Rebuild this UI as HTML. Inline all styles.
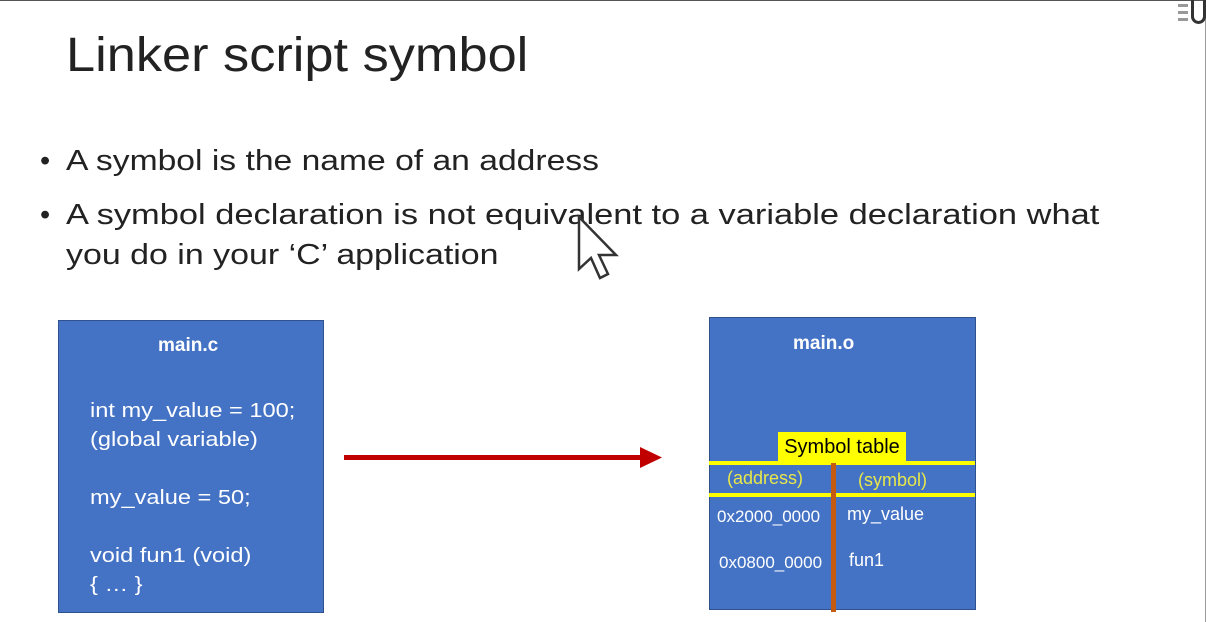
<!DOCTYPE html>
<html><head><style>
body{margin:0;width:1206px;height:622px;background:#fff;position:relative;overflow:hidden;font-family:"Liberation Sans",sans-serif;}
.a{position:absolute;white-space:nowrap;transform-origin:0 0;}
.box{position:absolute;background:#4472c4;border:1px solid #2f528f;}
.w{color:#fff;font-size:19px;}
</style></head><body>
<div style="position:absolute;left:0;top:0;width:1206px;height:1px;background:#555"></div>
<div style="position:absolute;left:1205px;top:0;width:1px;height:622px;background:#999"></div>
<div class="a" style="left:1178px;top:4px;width:10px;height:3px;background:#999;box-shadow:0 7px #999,0 14px #999"></div>
<div class="a" style="left:1191px;top:0;width:15px;height:24px;border:3px solid #333;border-top:none;border-radius:0 0 8px 8px;box-sizing:border-box"></div>
<div class="a" style="left:66px;top:28px;font-size:48px;color:#222;transform:scaleX(1.09)">Linker script symbol</div>
<div class="a" style="left:40px;top:145px;font-size:29px;color:#222;">•</div>
<div class="a" style="left:66px;top:145px;font-size:29px;color:#222;transform:scaleX(1.16)">A symbol is the name of an address</div>
<div class="a" style="left:40px;top:199px;font-size:29px;color:#222;">•</div>
<div class="a" style="left:66px;top:199px;font-size:29px;color:#222;transform:scaleX(1.187)">A symbol declaration is not equivalent to a variable declaration what</div>
<div class="a" style="left:66px;top:239px;font-size:29px;color:#222;transform:scaleX(1.17)">you do in your ‘C’ application</div>
<svg class="a" style="left:576px;top:214px" width="46" height="70"><path d="M3 3 L3 55 L15 44 L24 64 L32 60 L23 41 L40 41 Z" fill="#fff" stroke="#333" stroke-width="2.5"/></svg>
<div class="box" style="left:58px;top:320px;width:264px;height:291px;"></div>
<div class="a w" style="left:158px;top:335px;font-weight:bold;">main.c</div>
<div class="a w" style="left:90px;top:397px;line-height:29px;font-size:20px;transform:scaleX(1.18)">int my_value = 100;<br>(global variable)<br><br>my_value = 50;<br><br>void fun1 (void)<br>{ … }</div>
<div class="a" style="left:344px;top:455px;width:300px;height:5px;background:#c00000"></div>
<svg class="a" style="left:640px;top:447px" width="24" height="21"><path d="M0 0 L22 10.5 L0 21 Z" fill="#c00000"/></svg>
<div class="box" style="left:709px;top:317px;width:265px;height:291px;"></div>
<div class="a w" style="left:793px;top:333px;font-weight:bold;">main.o</div>
<div class="a" style="left:778px;top:432px;width:128px;height:31px;background:#ffff00;font-size:20px;color:#000;text-align:center;line-height:31px">Symbol table</div>
<div class="a" style="left:709px;top:461px;width:266px;height:4px;background:#ffff00"></div>
<div class="a" style="left:709px;top:493px;width:266px;height:4px;background:#ffff00"></div>
<div class="a" style="left:727px;top:468px;font-size:18px;color:#e8e84a">(address)</div>
<div class="a" style="left:858px;top:470px;font-size:18px;color:#e8e84a">(symbol)</div>
<div class="a" style="left:831px;top:463px;width:5px;height:149px;background:#c55a11"></div>
<div class="a" style="left:717px;top:507px;font-size:17px;color:#fff">0x2000_0000</div>
<div class="a" style="left:719px;top:553px;font-size:17px;color:#fff">0x0800_0000</div>
<div class="a" style="left:847px;top:504px;font-size:18px;color:#fff">my_value</div>
<div class="a" style="left:849px;top:550px;font-size:18px;color:#fff">fun1</div>
</body></html>
